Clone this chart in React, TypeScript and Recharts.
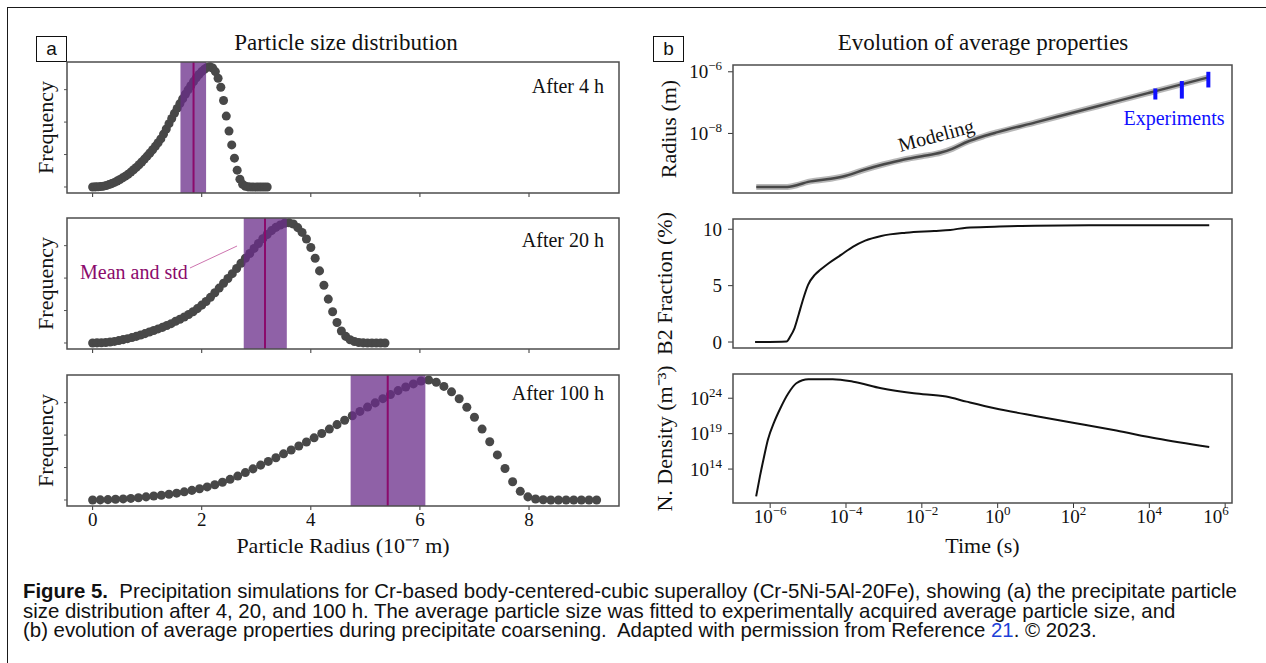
import React from "react";
import {
  ScatterChart,
  Scatter,
  LineChart,
  Line,
  XAxis,
  YAxis,
  ZAxis,
  ReferenceArea,
  ReferenceLine,
  ReferenceDot,
} from "recharts";

const SERIF = '"Liberation Serif", "Times New Roman", serif';
const SANS = '"Liberation Sans", Arial, Helvetica, sans-serif';
const INK = "#111";
const FRAME = "#4d4d4d";

// ---- panel a: particle size distributions (radius in 1e-7 m, frequency scaled to peak) ----
const radius4h = [
  0, 0.05, 0.1, 0.15, 0.2, 0.25, 0.3, 0.35, 0.4, 0.45,
  0.5, 0.55, 0.6, 0.65, 0.7, 0.75, 0.8, 0.85, 0.9, 0.95,
  1.0, 1.05, 1.1, 1.15, 1.2, 1.25, 1.3, 1.35, 1.4, 1.45,
  1.5, 1.55, 1.6, 1.65, 1.7, 1.75, 1.8, 1.85, 1.9, 1.95,
  2.0, 2.05, 2.1, 2.15, 2.2, 2.25, 2.3, 2.35, 2.4, 2.45,
  2.5, 2.55, 2.6, 2.65, 2.7, 2.75, 2.8, 2.85, 2.9, 2.95,
  3.0, 3.05, 3.1, 3.15, 3.2,
];
const freq4h = [
  0.0, 0.001, 0.002, 0.004, 0.007, 0.012, 0.02, 0.028, 0.038, 0.05,
  0.062, 0.076, 0.09, 0.106, 0.124, 0.143, 0.163, 0.185, 0.208, 0.232,
  0.257, 0.283, 0.31, 0.338, 0.368, 0.4, 0.44, 0.483, 0.527, 0.57,
  0.613, 0.654, 0.694, 0.733, 0.772, 0.808, 0.842, 0.877, 0.908, 0.936,
  0.96, 0.98, 0.995, 1.0, 0.99, 0.96, 0.905, 0.83, 0.72, 0.59,
  0.465, 0.35, 0.24, 0.14, 0.065, 0.022, 0.006, 0.001, 0.0, 0.0,
  0.0, 0.0, 0.0, 0.0, 0.0,
];
const radius20h = [
  0, 0.08, 0.16, 0.24, 0.32, 0.4, 0.48, 0.56, 0.64, 0.72,
  0.8, 0.88, 0.96, 1.04, 1.12, 1.2, 1.28, 1.36, 1.44, 1.52,
  1.6, 1.68, 1.76, 1.84, 1.92, 2.0, 2.08, 2.16, 2.24, 2.32,
  2.4, 2.48, 2.56, 2.64, 2.72, 2.8, 2.88, 2.96, 3.04, 3.12,
  3.2, 3.28, 3.36, 3.44, 3.52, 3.6, 3.68, 3.76, 3.84, 3.92,
  4.0, 4.08, 4.16, 4.24, 4.32, 4.4, 4.48, 4.56, 4.64, 4.72,
  4.8, 4.88, 4.96, 5.04, 5.12, 5.2, 5.28, 5.36,
];
const freq20h = [
  0.0, 0.001, 0.002, 0.004, 0.008, 0.013, 0.02, 0.028, 0.036, 0.045,
  0.055, 0.066, 0.078, 0.091, 0.104, 0.117, 0.13, 0.145, 0.161, 0.18,
  0.198, 0.216, 0.237, 0.26, 0.286, 0.315, 0.345, 0.38, 0.418, 0.457,
  0.497, 0.537, 0.577, 0.62, 0.663, 0.705, 0.745, 0.787, 0.828, 0.868,
  0.903, 0.935, 0.962, 0.982, 0.996, 1.0, 0.99, 0.96, 0.92, 0.865,
  0.795, 0.705, 0.6, 0.48, 0.365, 0.26, 0.17, 0.1, 0.055, 0.027,
  0.012, 0.004, 0.001, 0.0, 0.0, 0.0, 0.0, 0.0,
];
const radius100h = [
  0, 0.14, 0.28, 0.42, 0.56, 0.7, 0.84, 0.98, 1.12, 1.26,
  1.4, 1.54, 1.68, 1.82, 1.96, 2.1, 2.24, 2.38, 2.52, 2.66,
  2.8, 2.94, 3.08, 3.22, 3.36, 3.5, 3.64, 3.78, 3.92, 4.06,
  4.2, 4.34, 4.48, 4.62, 4.76, 4.9, 5.04, 5.18, 5.32, 5.46,
  5.6, 5.74, 5.88, 6.02, 6.16, 6.3, 6.44, 6.58, 6.72, 6.86,
  7.0, 7.14, 7.28, 7.42, 7.56, 7.7, 7.84, 7.98, 8.12, 8.26,
  8.4, 8.54, 8.68, 8.82, 8.96, 9.1, 9.24,
];
const freq100h = [
  0.0, 0.001, 0.003, 0.006, 0.009, 0.013, 0.019, 0.026, 0.033, 0.04,
  0.048, 0.057, 0.068, 0.08, 0.093, 0.109, 0.127, 0.148, 0.172, 0.199,
  0.228, 0.259, 0.29, 0.321, 0.352, 0.384, 0.416, 0.449, 0.482, 0.517,
  0.553, 0.59, 0.627, 0.664, 0.701, 0.737, 0.773, 0.808, 0.843, 0.877,
  0.91, 0.94, 0.966, 0.99, 0.998, 0.98, 0.945, 0.9, 0.842, 0.772,
  0.688, 0.59, 0.485, 0.375, 0.262, 0.152, 0.072, 0.026, 0.008, 0.002,
  0.0, 0.0, 0.0, 0.0, 0.0, 0.0, 0.0,
];

const sizeLabels = ["After 4 h", "After 20 h", "After 100 h"];
const meanRadius = [1.85, 3.16, 5.41];
const stdLow = [1.61, 2.77, 4.73];
const stdHigh = [2.08, 3.56, 6.1];
const radiusTicks = [0, 2, 4, 6, 8];
const freqTicks = [0, 0.27, 0.54, 0.81];

// ---- panel b: evolution of average properties ----
const timeTicks = [1e-6, 1e-4, 1e-2, 1, 1e2, 1e4, 1e6];

const radiusTime = [
  4.3e-7, 2.5e-6, 5e-6, 1e-5, 4e-5, 1e-4, 3.2e-4, 1e-3, 3.2e-3, 1e-2, 3.2e-2,
  6.3e-2, 0.16, 0.4, 1, 10, 100, 1e3, 1e4, 1e5, 3.6e5,
];
const avgRadius = [
  1.82e-10, 1.82e-10, 2.09e-10, 2.69e-10, 3.39e-10, 4.27e-10, 6.76e-10, 1.0e-9,
  1.41e-9, 1.82e-9, 2.4e-9, 3.16e-9, 5.37e-9, 7.94e-9, 1.1e-8, 2.29e-8, 4.79e-8,
  1.0e-7, 2.09e-7, 4.37e-7, 6.6e-7,
];
const expTime = [1.44e4, 7.2e4, 3.6e5];
const expLow = [1.26e-7, 1.35e-7, 3.1e-7];
const expHigh = [2.88e-7, 5.0e-7, 1.0e-6];

const b2Time = [
  4e-7, 2.7e-6, 3.4e-6, 4.4e-6, 5.6e-6, 7.1e-6, 1e-5, 1.5e-5, 2.1e-5, 3.5e-5,
  7.4e-5, 1.55e-4, 3.2e-4, 8.5e-4, 3.8e-3, 2.1e-2, 5.6e-2, 0.15, 0.83, 9.8,
  1350, 3.8e5,
];
const b2Fraction = [
  0, 0.05, 0.5, 1.24, 2.4, 3.6, 5.07, 5.96, 6.4, 6.99,
  7.73, 8.46, 8.99, 9.41, 9.7, 9.85, 9.94, 10.14, 10.23, 10.32,
  10.35, 10.35,
];

const densityTime = [
  4.27e-7, 5.37e-7, 6.92e-7, 8.71e-7, 1.29e-6, 1.86e-6, 3.02e-6, 4.9e-6, 1.02e-5,
  4.47e-5, 1.55e-4, 8.51e-4, 6.17e-3, 4.37e-2, 0.151, 0.83, 9.77, 115, 1349,
  1.58e4, 3.8e5,
];
const numberDensity = [
  1.38e10, 9.1e12, 5.9e15, 1.35e18, 5e20, 3.9e22, 5e24, 1.29e26, 4.8e26,
  4.8e26, 2.19e26, 2.57e25, 5e24, 1.7e24, 3.31e23, 3.9e22, 3.16e21, 3.02e20,
  2.75e19, 2.04e18, 1.26e17,
];

const R_DOM: [number, number] = [-0.47, 9.65];
const F_DOM: [number, number] = [-0.05, 1.04];
const T_DOM: [number, number] = [1.047e-7, 1.514e6];

function PowTick(props: any) {
  const { x, y, payload, vertical } = props;
  const e = Math.round(Math.log10(payload.value));
  const sup = e < 0 ? `\u2212${-e}` : `${e}`;
  return (
    <text x={x} y={y} textAnchor={vertical ? "end" : "middle"} fill={INK} fontFamily={SERIF}>
      <tspan fontSize={19} dy={vertical ? 6.5 : 13}>
        10
      </tspan>
      <tspan fontSize={13} dy={-8}>
        {sup}
      </tspan>
    </text>
  );
}

function SizePlot({ i, top, xs, ys }: { i: number; top: number; xs: number[]; ys: number[] }) {
  const last = i === 2;
  const axisH = last ? 52 : 12;
  const rows = xs.map((r, k) => ({ r, f: ys[k] }));
  const labelY = [0.84, 0.857, 0.89];
  const dotArea = last ? 94 : 82;
  return (
    <div style={{ position: "absolute", left: 7, top }}>
      <ScatterChart width={622} height={10 + 131 + axisH} margin={{ top: 10, right: 10, bottom: 0, left: 0 }}>
        <XAxis
          type="number"
          dataKey="r"
          domain={R_DOM}
          ticks={radiusTicks}
          allowDataOverflow
          axisLine={false}
          tickSize={4}
          tickMargin={3}
          tickLine={{ stroke: "#333" }}
          tick={{ fill: INK, fontSize: 19, fontFamily: SERIF }}
          tickFormatter={last ? (v: number) => String(v) : () => ""}
          height={axisH}
          label={
            last
              ? {
                  value: "Particle Radius (10\u207B\u2077 m)",
                  position: "insideBottom",
                  offset: 5,
                  fill: INK,
                  fontSize: 22,
                  fontFamily: SERIF,
                }
              : undefined
          }
        />
        <YAxis
          type="number"
          dataKey="f"
          domain={F_DOM}
          ticks={freqTicks}
          allowDataOverflow
          axisLine={false}
          tickSize={3}
          tickLine={{ stroke: "#555" }}
          tickFormatter={() => ""}
          width={60}
          label={{
            value: "Frequency",
            angle: -90,
            position: "insideLeft",
            offset: 38,
            fill: INK,
            fontSize: 22,
            fontFamily: SERIF,
            style: { textAnchor: "middle" },
          }}
        />
        <ZAxis range={[dotArea, dotArea]} />
        <Scatter data={rows} fill="#484848" isAnimationActive={false} />
        <ReferenceArea
          x1={stdLow[i]}
          x2={stdHigh[i]}
          y1={F_DOM[0]}
          y2={F_DOM[1]}
          fill="#6a2c8a"
          fillOpacity={0.75}
          stroke="none"
          ifOverflow="visible"
          zIndex={700}
        />
        <ReferenceLine x={meanRadius[i]} stroke="#8b0a6c" strokeWidth={2} zIndex={710} />
        <ReferenceArea
          x1={R_DOM[0]}
          x2={R_DOM[1]}
          y1={F_DOM[0]}
          y2={F_DOM[1]}
          fill="none"
          stroke={FRAME}
          strokeWidth={1.5}
          ifOverflow="visible"
          zIndex={720}
        />
        <ReferenceDot
          x={9.375}
          y={labelY[i]}
          r={0}
          ifOverflow="visible"
          label={{ value: sizeLabels[i], position: "left", offset: 0, fill: INK, fontSize: 20, fontFamily: SERIF }}
        />
        {i === 1 && (
          <ReferenceLine
            segment={[
              { x: 1.785, y: 0.624 },
              { x: 2.647, y: 0.807 },
            ]}
            stroke="#c0509a"
            strokeWidth={0.8}
          />
        )}
        {i === 1 && (
          <ReferenceDot
            x={-0.232}
            y={0.591}
            r={0}
            ifOverflow="visible"
            label={{ value: "Mean and std", position: "right", offset: 0, fill: "#8b0a6c", fontSize: 20, fontFamily: SERIF }}
          />
        )}
      </ScatterChart>
    </div>
  );
}

const xTimeAxis = (withLabels: boolean, h: number) => (
  <XAxis
    type="number"
    dataKey="t"
    scale="log"
    domain={T_DOM}
    ticks={timeTicks}
    allowDataOverflow
    axisLine={false}
    tickSize={5}
    tickMargin={2}
    tickLine={{ stroke: "#333" }}
    tick={withLabels ? <PowTick /> : false}
    height={h}
    label={
      withLabels
        ? { value: "Time (s)", position: "insideBottom", offset: 5.5, fill: INK, fontSize: 22, fontFamily: SERIF }
        : undefined
    }
  />
);

const yLabel = (value: string, offset: number) => ({
  value,
  angle: -90,
  position: "insideLeft" as const,
  offset,
  fill: INK,
  fontSize: 22,
  fontFamily: SERIF,
  style: { textAnchor: "middle" as const },
});

// panel b charts: svg starts at x=641, y axis area 92 px wide -> plot box starts at 733
const B_LEFT = 641;
const B_W = 603;
const B_YW = 92;

function RadiusPlot() {
  const rows = radiusTime.map((t, k) => ({ t, r: avgRadius[k] }));
  const yDom: [number, number] = [1.17e-10, 1.66e-6];
  return (
    <div style={{ position: "absolute", left: B_LEFT, top: 55 }}>
      <LineChart width={B_W} height={150} data={rows} margin={{ top: 10, right: 12, bottom: 0, left: 0 }}>
        {xTimeAxis(false, 12)}
        <YAxis
          type="number"
          scale="log"
          domain={yDom}
          ticks={[1e-8, 1e-6]}
          allowDataOverflow
          axisLine={false}
          tickSize={5}
          tickMargin={6}
          tickLine={{ stroke: "#333" }}
          tick={<PowTick vertical />}
          width={B_YW}
          label={yLabel("Radius (m)", 27)}
        />
        <Line type="monotone" dataKey="r" stroke="#9a9a9a" strokeWidth={6} strokeOpacity={0.7} dot={false} isAnimationActive={false} />
        <Line type="monotone" dataKey="r" stroke="#484848" strokeWidth={2.5} dot={false} isAnimationActive={false} />
        {expTime.map((t, k) => (
          <ReferenceLine
            key={t}
            segment={[
              { x: t, y: expLow[k] },
              { x: t, y: expHigh[k] },
            ]}
            stroke="#1010ff"
            strokeWidth={4}
          />
        ))}
        <ReferenceDot
          x={4.47e4}
          y={3.16e-8}
          r={0}
          label={{ value: "Experiments", position: "center", fill: "#1010ff", fontSize: 20, fontFamily: SERIF }}
        />
        <ReferenceDot
          x={0.0237}
          y={8.9e-9}
          r={0}
          label={{ value: "Modeling", position: "center", angle: -15, fill: INK, fontSize: 20, fontFamily: SERIF }}
        />
        <ReferenceArea x1={T_DOM[0]} x2={T_DOM[1]} y1={yDom[0]} y2={yDom[1]} fill="none" stroke={FRAME} strokeWidth={1.5} ifOverflow="visible" zIndex={720} />
      </LineChart>
    </div>
  );
}

function FractionPlot() {
  const rows = b2Time.map((t, k) => ({ t, v: b2Fraction[k] }));
  const yDom: [number, number] = [-0.53, 10.91];
  return (
    <div style={{ position: "absolute", left: B_LEFT, top: 209 }}>
      <LineChart width={B_W} height={151} data={rows} margin={{ top: 10, right: 12, bottom: 0, left: 0 }}>
        {xTimeAxis(false, 12)}
        <YAxis
          type="number"
          domain={yDom}
          ticks={[0, 5, 10]}
          allowDataOverflow
          axisLine={false}
          tickSize={5}
          tickMargin={6}
          tickLine={{ stroke: "#333" }}
          tick={{ fill: INK, fontSize: 19, fontFamily: SERIF }}
          width={B_YW}
          label={yLabel("B2 Fraction (%)", 23.5)}
        />
        <Line type="monotone" dataKey="v" stroke="#111" strokeWidth={2} dot={false} isAnimationActive={false} />
        <ReferenceArea x1={T_DOM[0]} x2={T_DOM[1]} y1={yDom[0]} y2={yDom[1]} fill="none" stroke={FRAME} strokeWidth={1.5} ifOverflow="visible" zIndex={720} />
      </LineChart>
    </div>
  );
}

function DensityPlot() {
  const rows = densityTime.map((t, k) => ({ t, n: numberDensity[k] }));
  const yDom: [number, number] = [1.62e9, 2.63e27];
  return (
    <div style={{ position: "absolute", left: B_LEFT, top: 364 }}>
      <LineChart width={B_W} height={194} data={rows} margin={{ top: 10, right: 12, bottom: 0, left: 0 }}>
        {xTimeAxis(true, 55)}
        <YAxis
          type="number"
          scale="log"
          domain={yDom}
          ticks={[1e14, 1e19, 1e24]}
          allowDataOverflow
          axisLine={false}
          tickSize={5}
          tickMargin={6}
          tickLine={{ stroke: "#333" }}
          tick={<PowTick vertical />}
          width={B_YW}
          label={yLabel("N. Density (m\u207B\u00B3)", 23.5)}
        />
        <Line type="monotone" dataKey="n" stroke="#111" strokeWidth={2} dot={false} isAnimationActive={false} />
        <ReferenceArea x1={T_DOM[0]} x2={T_DOM[1]} y1={yDom[0]} y2={yDom[1]} fill="none" stroke={FRAME} strokeWidth={1.5} ifOverflow="visible" zIndex={720} />
      </LineChart>
    </div>
  );
}

const panelTag = (left: number, text: string) => (
  <div
    style={{
      position: "absolute",
      left,
      top: 36,
      width: 29,
      height: 24,
      border: "1.3px solid #111",
      fontFamily: SANS,
      fontSize: 19,
      lineHeight: "23px",
      textAlign: "center",
      color: INK,
    }}
  >
    {text}
  </div>
);

export default function App() {
  return (
    <div
      style={{
        position: "absolute",
        left: 0,
        top: 0,
        width: 1266,
        height: 663,
        overflow: "hidden",
        background: "#fff",
        fontFamily: SERIF,
      }}
    >
      <div
        style={{
          position: "absolute",
          left: 7,
          top: 7,
          width: 1300,
          height: 700,
          borderTop: "1.5px solid #1a1a1a",
          borderLeft: "1.5px solid #1a1a1a",
        }}
      />
      {panelTag(36, "a")}
      {panelTag(653, "b")}
      <div style={{ position: "absolute", left: 46, width: 600, top: 29, textAlign: "center", fontSize: 23, lineHeight: "28px", color: INK }}>
        Particle size distribution
      </div>
      <div style={{ position: "absolute", left: 683, width: 600, top: 29, textAlign: "center", fontSize: 23, lineHeight: "28px", color: INK }}>
        Evolution of average properties
      </div>

      <SizePlot i={0} top={52} xs={radius4h} ys={freq4h} />
      <SizePlot i={1} top={208} xs={radius20h} ys={freq20h} />
      <SizePlot i={2} top={365} xs={radius100h} ys={freq100h} />

      <RadiusPlot />
      <FractionPlot />
      <DensityPlot />

      <div
        style={{
          position: "absolute",
          left: 23,
          top: 582,
          fontFamily: SANS,
          fontSize: 20.4,
          lineHeight: "19.5px",
          color: INK,
          whiteSpace: "pre",
        }}
      >
        <div>
          <b>Figure 5.</b>
          {"  Precipitation simulations for Cr-based body-centered-cubic superalloy (Cr-5Ni-5Al-20Fe), showing (a) the precipitate particle"}
        </div>
        <div>
          {"size distribution after 4, 20, and 100 h. The average particle size was fitted to experimentally acquired average particle size, and"}
        </div>
        <div>
          {"(b) evolution of average properties during precipitate coarsening.  Adapted with permission from Reference "}
          <span style={{ color: "#1c3fd8" }}>21</span>
          {". \u00A9 2023."}
        </div>
      </div>
    </div>
  );
}
